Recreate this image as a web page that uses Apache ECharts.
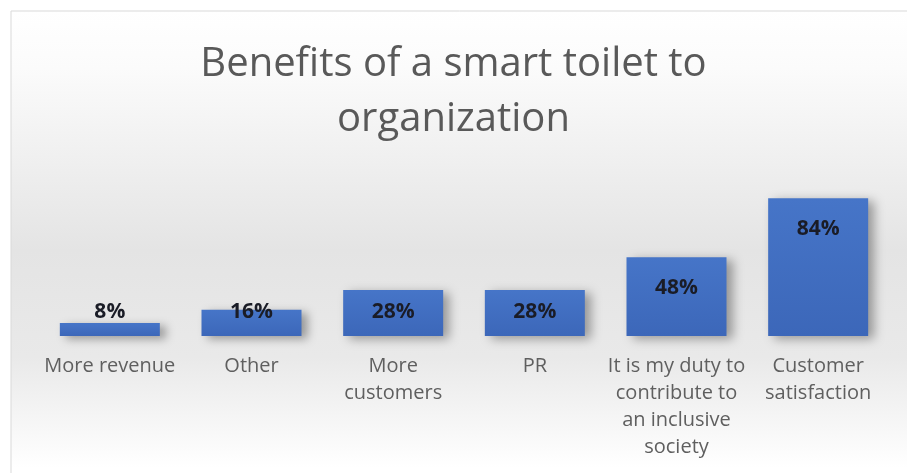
<!DOCTYPE html>
<html>
<head>
<meta charset="utf-8">
<script src="https://cdn.jsdelivr.net/npm/echarts@6/dist/echarts.min.js"></script>
<style>
  html, body { margin: 0; padding: 0; background: #ffffff; }
  #chart { width: 907px; height: 473px; }
</style>
</head>
<body>
<div id="chart"></div>
<script>
// Survey answers: benefits of a smart toilet to an organization (share of respondents, %)
const categories = [
  'More revenue',
  'Other',
  'More\ncustomers',
  'PR',
  'It is my duty to\ncontribute to\nan inclusive\nsociety',
  'Customer\nsatisfaction'
];
const shares = [8, 16, 28, 28, 48, 84];
const chartTitle = 'Benefits of a smart toilet to\norganization';

const FONT = '"Open Sans", Lato, sans-serif';

// Short bars carry their label near the base, taller ones just inside the top
const barData = shares.map(v => ({
  value: v,
  label: v < 30
    ? { position: 'insideBottom', distance: 13 }
    : { position: 'insideTop', distance: 20 }
}));

const chart = echarts.init(document.getElementById('chart'), null, { renderer: 'canvas' });

chart.setOption({
  animation: false,
  graphic: [{
    type: 'rect',
    z: -10,
    silent: true,
    shape: { x: 11, y: 11, width: 920, height: 480 },
    style: {
      stroke: '#d9d9d9',
      lineWidth: 1,
      fill: {
        type: 'linear', x: 0, y: 0, x2: 0, y2: 1,
        colorStops: [
          { offset: 0, color: '#ffffff' },
          { offset: 0.12, color: '#fbfbfb' },
          { offset: 0.5, color: '#e4e4e4' },
          { offset: 0.72, color: '#e9e9e9' },
          { offset: 0.95, color: '#ffffff' },
          { offset: 1, color: '#ffffff' }
        ]
      }
    }
  }],
  title: {
    text: chartTitle,
    left: 'center',
    top: 32,
    textStyle: {
      fontFamily: FONT,
      fontSize: 40,
      fontWeight: 'normal',
      color: '#595959',
      lineHeight: 55
    }
  },
  grid: { left: 39, right: 18, top: 172, bottom: 137, containLabel: false },
  xAxis: {
    type: 'category',
    data: categories,
    axisLine: { show: false },
    axisTick: { show: false },
    axisLabel: {
      interval: 0,
      margin: 17,
      fontFamily: FONT,
      fontSize: 20,
      lineHeight: 27,
      color: '#5f5f5f',
      verticalAlign: 'top'
    }
  },
  yAxis: {
    type: 'value',
    min: 0,
    max: 100,
    show: false,
    splitLine: { show: false }
  },
  series: [{
    type: 'bar',
    data: barData,
    barWidth: 100,
    itemStyle: {
      color: {
        type: 'linear', x: 0, y: 0, x2: 0, y2: 1,
        colorStops: [
          { offset: 0, color: '#4675c8' },
          { offset: 1, color: '#3c67b9' }
        ]
      },
      shadowColor: 'rgba(0,0,0,0.35)',
      shadowBlur: 10,
      shadowOffsetX: 6,
      shadowOffsetY: 3
    },
    label: {
      show: true,
      formatter: '{c}%',
      fontFamily: FONT,
      fontSize: 21,
      fontWeight: 'bold',
      color: '#1a1c26'
    }
  }]
});
</script>
</body>
</html>
